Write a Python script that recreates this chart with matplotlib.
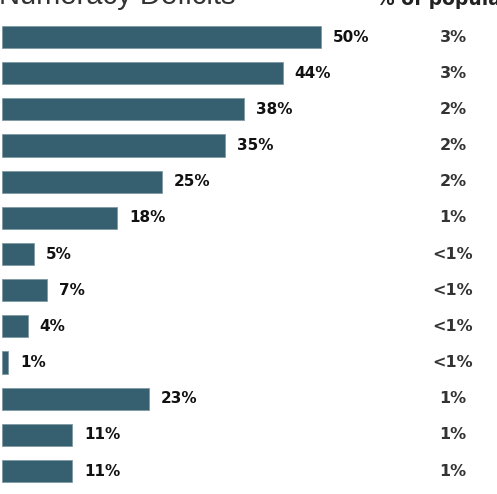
import matplotlib.pyplot as plt
import numpy as np

# values (bar length and share of population)
deficit_pct = [50, 44, 38, 35, 25, 18, 5, 7, 4, 1, 23, 11, 11]
population_share = ['3%', '3%', '2%', '2%', '2%', '1%', '<1%', '<1%', '<1%', '<1%', '1%', '1%', '1%']

bar_color = '#36606f'

fig = plt.figure(figsize=(4.97, 4.94), dpi=100)
ax = fig.add_axes([0, 0, 1, 1])

y = np.arange(len(deficit_pct))
bars = ax.barh(y, deficit_pct, height=0.61, color=bar_color, edgecolor='#7f9aa5', linewidth=0.6)

# map data to the pixel layout of the reference
px_per_pct = 6.38
ax.set_xlim(-2 / px_per_pct, (497 - 2) / px_per_pct)
row_px = 36.17
ax.set_ylim((494 - 37) / row_px, -37 / row_px)
ax.axis('off')

for yi, v in zip(y, deficit_pct):
    ax.text(v + 12 / px_per_pct, yi, f'{v}%', ha='left', va='center',
            fontsize=11, fontweight='heavy', color='#111111')

right_x = (453 - 2) / px_per_pct
for yi, s in zip(y, population_share):
    ax.text(right_x, yi, s, ha='center', va='center',
            fontsize=11.5, fontweight='bold', color='#333333')

# clipped header texts at the very top
fig.text(-0.002, 1 - 4 / 494, 'Numeracy Deficits', ha='left', va='baseline',
         fontsize=21, color='#333333', family='Liberation Sans')
fig.text(376 / 497, 1 - 5 / 494, '% of population', ha='left', va='baseline',
         fontsize=13.5, fontweight='bold', color='#222222')

fig.savefig('out.png', dpi=100)
